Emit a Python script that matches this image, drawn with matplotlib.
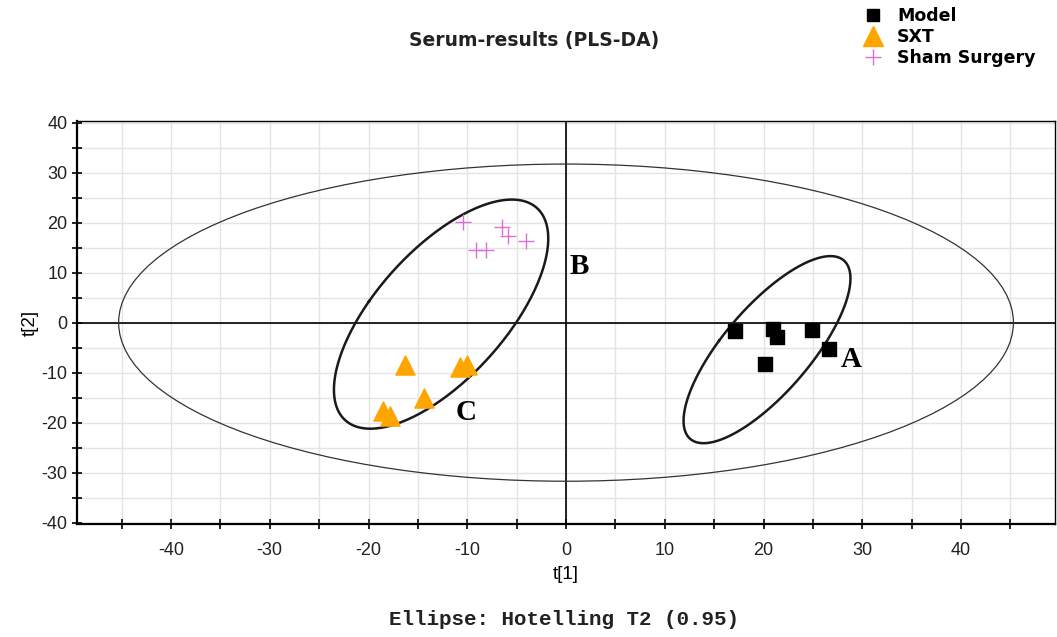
import numpy as np
import matplotlib.pyplot as plt
from matplotlib.patches import Ellipse
from matplotlib.lines import Line2D
from matplotlib.ticker import MultipleLocator

plt.rcParams['axes.unicode_minus'] = False
plt.rcParams['font.family'] = ['Liberation Sans', 'DejaVu Sans']

# scores
model_t1 = [17.1, 21.0, 21.4, 24.9, 26.6, 20.1]
model_t2 = [-1.6, -1.2, -2.8, -1.4, -5.2, -8.2]
sxt_t1 = [-16.3, -10.7, -10.0, -14.4, -18.5, -17.8]
sxt_t2 = [-8.5, -8.9, -8.5, -15.1, -17.7, -18.7]
sham_t1 = [-10.4, -6.5, -5.9, -4.1, -9.1, -8.1]
sham_t2 = [20.1, 19.1, 17.3, 16.3, 14.5, 14.5]

# group ellipses: centre x, centre y, half-extent x, half-extent y, correlation
group_ellipses = [(20.35, -5.4, 8.45, 18.7, 0.76),
                  (-12.65, 1.7, 10.85, 22.9, 0.66)]
hotelling = (45.3, 31.7)

group_labels = ['A', 'B', 'C']
label_x = [28.9, 1.3, -10.1]
label_y = [-7.4, 11.3, -17.9]


def ellipse_points(cx, cy, hx, hy, rho, n=300):
    cov = np.array([[hx**2, rho * hx * hy], [rho * hx * hy, hy**2]])
    vals, vecs = np.linalg.eigh(cov)
    t = np.linspace(0, 2 * np.pi, n)
    circ = np.vstack([np.cos(t), np.sin(t)])
    pts = vecs @ (np.sqrt(vals)[:, None] * circ)
    return pts[0] + cx, pts[1] + cy


fig = plt.figure(figsize=(10.57, 6.37), dpi=100)
ax = fig.add_axes([0.073, 0.177, 0.925, 0.633])

ax.set_xlim(-49.5, 49.5)
ax.set_ylim(-40.3, 40.3)
ax.xaxis.set_major_locator(MultipleLocator(10))
ax.xaxis.set_minor_locator(MultipleLocator(5))
ax.yaxis.set_major_locator(MultipleLocator(10))
ax.yaxis.set_minor_locator(MultipleLocator(5))
ax.grid(True, which='both', color='#e4e4e4', linewidth=1.0, zorder=0)
ax.set_axisbelow(True)

ax.axhline(0, color='black', linewidth=1.2, zorder=1)
ax.axvline(0, color='black', linewidth=1.2, zorder=1)

ax.add_patch(Ellipse((0, 0), 2 * hotelling[0], 2 * hotelling[1], fill=False,
                     edgecolor='#333333', linewidth=0.9, zorder=2))
for cx, cy, hx, hy, rho in group_ellipses:
    ex, ey = ellipse_points(cx, cy, hx, hy, rho)
    ax.plot(ex, ey, color='#1a1a1a', linewidth=1.8, zorder=2)

ax.scatter(model_t1, model_t2, marker='s', s=95, color='black', zorder=3)
ax.scatter(sxt_t1, sxt_t2, marker='^', s=190, color='#FFA500', zorder=3)
ax.scatter(sham_t1, sham_t2, marker='+', s=130, color='#DA70D6',
           linewidths=1.0, zorder=3)

for lab, lx, ly in zip(group_labels, label_x, label_y):
    ax.text(lx, ly, lab, fontsize=21, fontweight='bold',
            family='Liberation Serif', ha='center', va='center', zorder=4)

for side in ['left', 'bottom']:
    ax.spines[side].set_linewidth(1.6)
for side in ['top', 'right']:
    ax.spines[side].set_linewidth(1.0)

ax.tick_params(which='both', direction='inout', length=7, width=1.2,
               labelsize=13, labelcolor='#222222')
ax.tick_params(axis='x', pad=9)

ax.set_xlabel('t[1]', fontsize=13.5, labelpad=5)
ax.set_ylabel('t[2]', fontsize=13.5, labelpad=2)

fig.text(0.505, 0.937, 'Serum-results (PLS-DA)', ha='center', va='center',
         fontsize=13.5, fontweight='bold', family='DejaVu Sans',
         color='#222222')
fig.text(0.534, 0.027, 'Ellipse: Hotelling T2 (0.95)', ha='center',
         va='center', fontsize=15, family='Liberation Mono',
         fontweight='bold', color='#222222')

handles = [
    Line2D([], [], marker='s', color='black', linestyle='none', markersize=9),
    Line2D([], [], marker='^', color='#FFA500', linestyle='none', markersize=14),
    Line2D([], [], marker='+', color='#DA70D6', linestyle='none',
           markersize=11, markeredgewidth=1.0),
]
leg = fig.legend(handles, ['Model', 'SXT', 'Sham Surgery'],
                 loc='upper left', bbox_to_anchor=(0.801, 1.014), frameon=False,
                 handletextpad=0.8, labelspacing=0.19, handlelength=1.2,
                 prop={'family': 'DejaVu Sans', 'weight': 'bold',
                       'size': 12.5})

fig.savefig('out.png', dpi=100)
